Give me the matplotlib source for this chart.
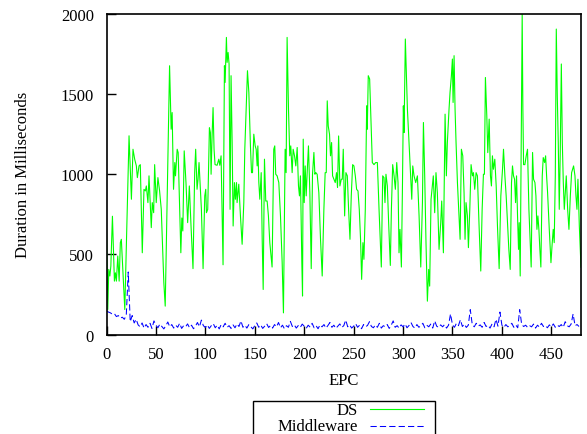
import matplotlib
matplotlib.use('Agg')
import matplotlib.pyplot as plt
from matplotlib.lines import Line2D
from matplotlib.patches import Rectangle

# ---------------- data ----------------
ds_x = [0, 1.3, 2.3, 3.4, 4.4, 6, 8, 9, 10, 11.4, 12.8, 14, 15, 16, 18.5, 22.8,
        25.2, 26.8, 28.5, 30.2, 31.2, 32.9, 34.2, 36.2, 37.9, 39.3, 40.3, 41.9, 43, 43.6, 45.3, 46.3,
        47.7, 48.7, 50.3, 52, 53.7, 55.4, 58, 59.4, 63.8, 65.4, 66.4, 67.8, 69.1, 69.8, 71.5, 72.5,
        73.8, 75.2, 76.2, 77.2, 78.6,
        80.4, 82.1, 83.8, 85.5, 87.5, 89.2, 90.2, 91.6, 92.6, 93.6, 95, 96, 97.7, 99.4, 100.4, 101.1,
        102.4, 104.1, 105.1, 105.8, 106.8, 107.8, 108.8, 109.8, 111.9, 113.6, 114.6, 115.9, 117.9,
        119.3, 120, 120.6, 121.3, 122, 123, 124, 125, 126, 127.1, 128.1, 129.4, 130.4, 131.5, 132.1,
        133.8, 135.5, 137.2, 138.9, 139.9, 141.3, 142.6, 144, 145.6, 146.7, 147.7, 149, 150.4, 151.4,
        152.4, 153.1, 154.1, 155.1, 156.5, 157.5, 158.5, 159.8,
        161.1, 162.5, 163.8, 165.2, 167.5, 169.2, 170.2, 171.2, 172.6, 174.3, 176, 177.7, 179, 180.7,
        181.7, 182.7, 184.1, 185.4, 186.4, 187.8, 188.8, 190.2, 191.5, 192.9, 194.2, 195.2, 196.2,
        197.6, 198.3, 199, 200, 201, 202, 203, 204.3, 205.7, 207.1, 208.4, 209.8, 210.8, 211.8, 213.1,
        214.8, 216.5, 218.2, 219.9, 221.2, 222.3, 223.3, 224.3, 225.6, 226.6, 227.7, 228.7, 230,
        231.4, 232.7, 233.7, 234.8, 236.1, 237.5, 238.5, 239.5, 240.9,
        242.2, 243.6, 244.9, 246.3, 247.6, 249, 250.3, 251.7, 253, 254.4, 255.7, 257, 258.1, 259.4,
        260.4, 261.8, 263.2, 263.8, 264.8, 266.2, 267.2, 268.9, 270.6, 272.3, 274, 275.7, 278, 279.4,
        280.7, 281.7, 282.7, 284.1, 285.4, 287.1, 288.2, 289.5, 290.9, 292.2, 293.6, 294.9, 295.9,
        296.9, 298.3, 299.3, 300.3, 301, 302.3, 303.4, 304.4, 306, 307.7, 308.8, 309.8, 311.1, 312.8,
        314.5, 316.2, 317.9, 319.6, 320.6,
        321.9, 323.2, 324.6, 325.9, 326.9, 328.3, 329.6, 330.6, 332, 333.3, 334.7, 336.4, 338.1,
        339.1, 340.8, 342.5, 343.8, 344.8, 346.5, 347.5, 348.9, 349.9, 350.6, 351.6, 352.6, 353.6,
        355, 356.3, 357.7, 359, 360.4, 361.7, 362.7, 363.7, 365.1, 366.1, 367.5, 368.8, 370.2, 371.2,
        372.5, 373.9, 375.2, 376.9, 378.6, 380, 381.3, 382.3, 383.3, 384.7, 385.7, 387.1, 388.4,
        389.4, 390.4, 391.4, 392.8, 394.2, 395.5, 397.2, 398.9, 400.6, 401.6,
        403, 404.3, 405.7, 407, 408.4, 409.7, 410.7, 411.7, 412.8, 413.8, 414.8, 415.8, 416.8, 417.5,
        418.5, 419.8, 420.5, 421.2, 421.9, 423.2, 424.6, 425.9, 427.3, 428.6, 429.6, 431, 432, 433.4,
        434.4, 435.4, 436.4, 437.4, 438.4, 439.4, 440.8, 441.8, 443.2, 444.2, 445.2, 446.2, 447.9,
        449.6, 450.9, 451.9, 452.9, 454, 455, 456, 457, 458, 459, 460.1, 461.1, 462.1, 463.1, 464.1,
        465.1, 466.5, 467.8, 469.2, 470.5, 471.5, 472.5, 473.9, 474.9, 475.9, 476.9, 478.3, 480]

ds_y = [656, 156, 406, 365, 427, 738, 333, 385, 333, 490, 333, 573, 594, 469, 156, 1240,
        844, 1156, 1094, 1052, 979, 1052, 1060, 510, 906, 896, 927, 823, 990, 906, 667, 823,
        760, 1060, 823, 979, 896, 781, 323, 177, 1677, 1281, 1385, 906, 1073, 990, 1156, 1135,
        823, 510, 727, 646, 1146,
        948, 698, 927, 677, 411, 1010, 1156, 906, 969, 1073, 906, 781, 411, 865, 906, 760,
        781, 1290, 1260, 1000, 1239, 1416, 1156, 1060, 1056, 1094, 1056, 1115, 435,
        1677, 1573, 1698, 1854, 1698, 1760, 1688, 781, 1615, 1198, 677, 948, 844, 948, 823,
        938, 740, 563, 823, 1156, 1406, 1646, 1510, 1177, 1010, 1010, 1250, 1177, 1156,
        1052, 1177, 948, 844, 1010, 594, 281, 1094,
        833, 833, 740, 573, 421, 1156, 1177, 1000, 990, 948, 740, 448, 135, 1156,
        1010, 1854, 1406, 1115, 1177, 1010, 1156, 1115, 1052, 1167, 927, 865, 990,
        448, 240, 1219, 823, 1052, 865, 1010, 1177, 885, 411, 1000, 1136, 1000, 1010, 1000,
        885, 594, 365, 781, 1010, 1010, 1458, 1302, 1250, 1115, 1198, 990, 969,
        948, 1010, 917, 1239, 927, 969, 969, 1156, 740,
        1010, 990, 781, 594, 865, 1060, 1052, 990, 906, 896, 781, 594, 344, 573,
        469, 781, 1427, 1281, 1615, 1594, 1406, 1073, 1060, 1073, 1073, 781, 421, 990,
        979, 823, 1000, 927, 698, 431, 781, 1060, 990, 906, 1073, 948, 510,
        656, 421, 885, 1427, 1260, 1844, 1615, 1406, 1198, 969, 844, 1052, 990, 948,
        990, 740, 421, 823, 1323,
        990, 573, 208, 406, 302, 844, 927, 990, 760, 1010, 885, 531, 698,
        833, 510, 1375, 990, 1198, 1406, 1510, 1615, 1719, 1448, 1740, 1406, 1198,
        948, 781, 594, 1156, 1115, 885, 594, 823, 740, 542, 781, 1060, 990, 1010,
        906, 1010, 990, 677, 396, 781, 1000, 1000, 1604, 1365, 1135, 1344, 990,
        927, 1115, 1031, 1094, 927, 677, 411, 865, 1031, 1156,
        990, 865, 698, 531, 406, 948, 1052, 990, 969, 823, 990, 740, 531, 698,
        365, 1406, 2000, 1406, 1060, 1060, 1115, 1156, 781, 573, 421, 1136, 969, 948,
        865, 656, 740, 656, 531, 421, 990, 1104, 1073, 1115, 990, 885, 656,
        448, 573, 656, 573, 990, 1906, 1490, 1198, 781, 1136, 1688, 1198, 948, 781, 885,
        990, 781, 656, 865, 1010, 1031, 1052, 990, 865, 781, 969, 677, 420]

mw_x = list(range(0, 480, 2))
mw_y = [148, 140, 135, 126, 130, 112, 118, 102, 108, 95, 120, 390, 80, 118, 72, 95, 60, 48, 72, 40,
        62, 45, 70, 38, 85, 58, 42, 65, 50, 35,
        55, 78, 48, 62, 40, 58, 45, 70, 38, 55,
        48, 66, 42, 58, 36, 52, 75, 48, 90, 55,
        44, 60, 38, 55, 68, 42, 58, 35, 62, 48,
        70, 45, 55, 38, 60, 42, 66, 50, 85, 45,
        58, 40, 62, 48, 35, 55, 72, 45, 60, 38,
        52, 68, 44, 56, 40, 62, 48, 75, 42, 58,
        36, 55, 45, 82, 50, 60, 40, 56, 44, 65,
        52, 38, 58, 46, 70, 42, 55, 36, 60, 48,
        62, 40, 56, 75, 45, 58, 38, 52, 66, 44,
        55, 90, 48, 60, 40, 52, 68, 45, 58, 36,
        62, 48, 56, 80, 50, 42, 60, 45, 70, 40,
        55, 48, 62, 38, 58, 85, 45, 55, 40, 60,
        48, 66, 42, 56, 75, 50, 40, 62, 45, 55,
        70, 42, 58, 48, 65, 40, 85, 52, 44, 60,
        48, 62, 40, 58, 128, 60, 45, 70, 55, 92,
        50, 65, 44, 58, 155, 62, 48, 70, 52, 60,
        45, 75, 50, 58, 40, 66, 48, 95, 52, 140,
        58, 45, 62, 48, 56, 70, 45, 60, 42, 155,
        62, 50, 58, 44, 55, 48, 65, 40, 58, 46,
        70, 50, 56, 42, 60, 48, 66, 45, 58, 50,
        62, 44, 80, 55, 48, 65, 128, 55, 62, 50]

x_ticks = [0, 50, 100, 150, 200, 250, 300, 350, 400, 450]
y_ticks = [0, 500, 1000, 1500, 2000]
series_labels = ['DS', 'Middleware']

# ---------------- style ----------------
plt.rcParams['font.family'] = ['Liberation Serif', 'DejaVu Serif']
plt.rcParams['font.size'] = 12

W, H = 587, 435
fig = plt.figure(figsize=(W / 100, H / 100), dpi=100)
L, R, T, B = 106.5, 581.0, 15.0, 335.5
ax = fig.add_axes([L / W, 1 - B / H, (R - L) / W, (B - T) / H])

green = '#00ff00'
blue = '#0000ff'
ax.plot(ds_x, ds_y, color=green, lw=0.8)
ax.plot(mw_x, mw_y, color=blue, lw=0.75, ls=(0, (6, 3)))

ax.set_xlim(0, 480)
ax.set_ylim(0, 2000)
ax.set_xticks(x_ticks)
ax.set_yticks(y_ticks)
ax.tick_params(direction='in', length=6.5, width=1.0, top=False, right=False, colors='black')
ax.tick_params(axis='x', pad=8)
ax.tick_params(axis='y', pad=9)
for s in ax.spines.values():
    s.set_linewidth(1.2)

ax.set_xlabel('EPC')
ax.xaxis.set_label_coords(((L + R) / 2 - L) / (R - L), (B - 381) / (B - T))
ax.xaxis.label.set_verticalalignment('center')
ax.set_ylabel('Duration in Milliseconds')
ax.yaxis.set_label_coords((23 - L) / (R - L), 0.5)
ax.yaxis.label.set_verticalalignment('center')

# ---------------- key (legend) below plot, cut by the figure edge ----------------
def fx(px):
    return px / W

def fy(py):
    return 1 - py / H

fig.add_artist(Rectangle((fx(253), fy(455)), fx(435) - fx(253), fy(402) - fy(455),
                         transform=fig.transFigure, fill=False, edgecolor='black', lw=1.0))
fig.text(fx(358), fy(415.0), series_labels[0], ha='right', va='baseline')
fig.text(fx(358), fy(431.0), series_labels[1], ha='right', va='baseline')
fig.add_artist(Line2D([fx(370), fx(424)], [fy(410.0), fy(410.0)], transform=fig.transFigure,
                      color=green, lw=0.8))
fig.add_artist(Line2D([fx(370), fx(424)], [fy(426.5), fy(426.5)], transform=fig.transFigure,
                      color=blue, lw=0.75, ls=(0, (6, 3))))

fig.savefig('out.png', dpi=100)
